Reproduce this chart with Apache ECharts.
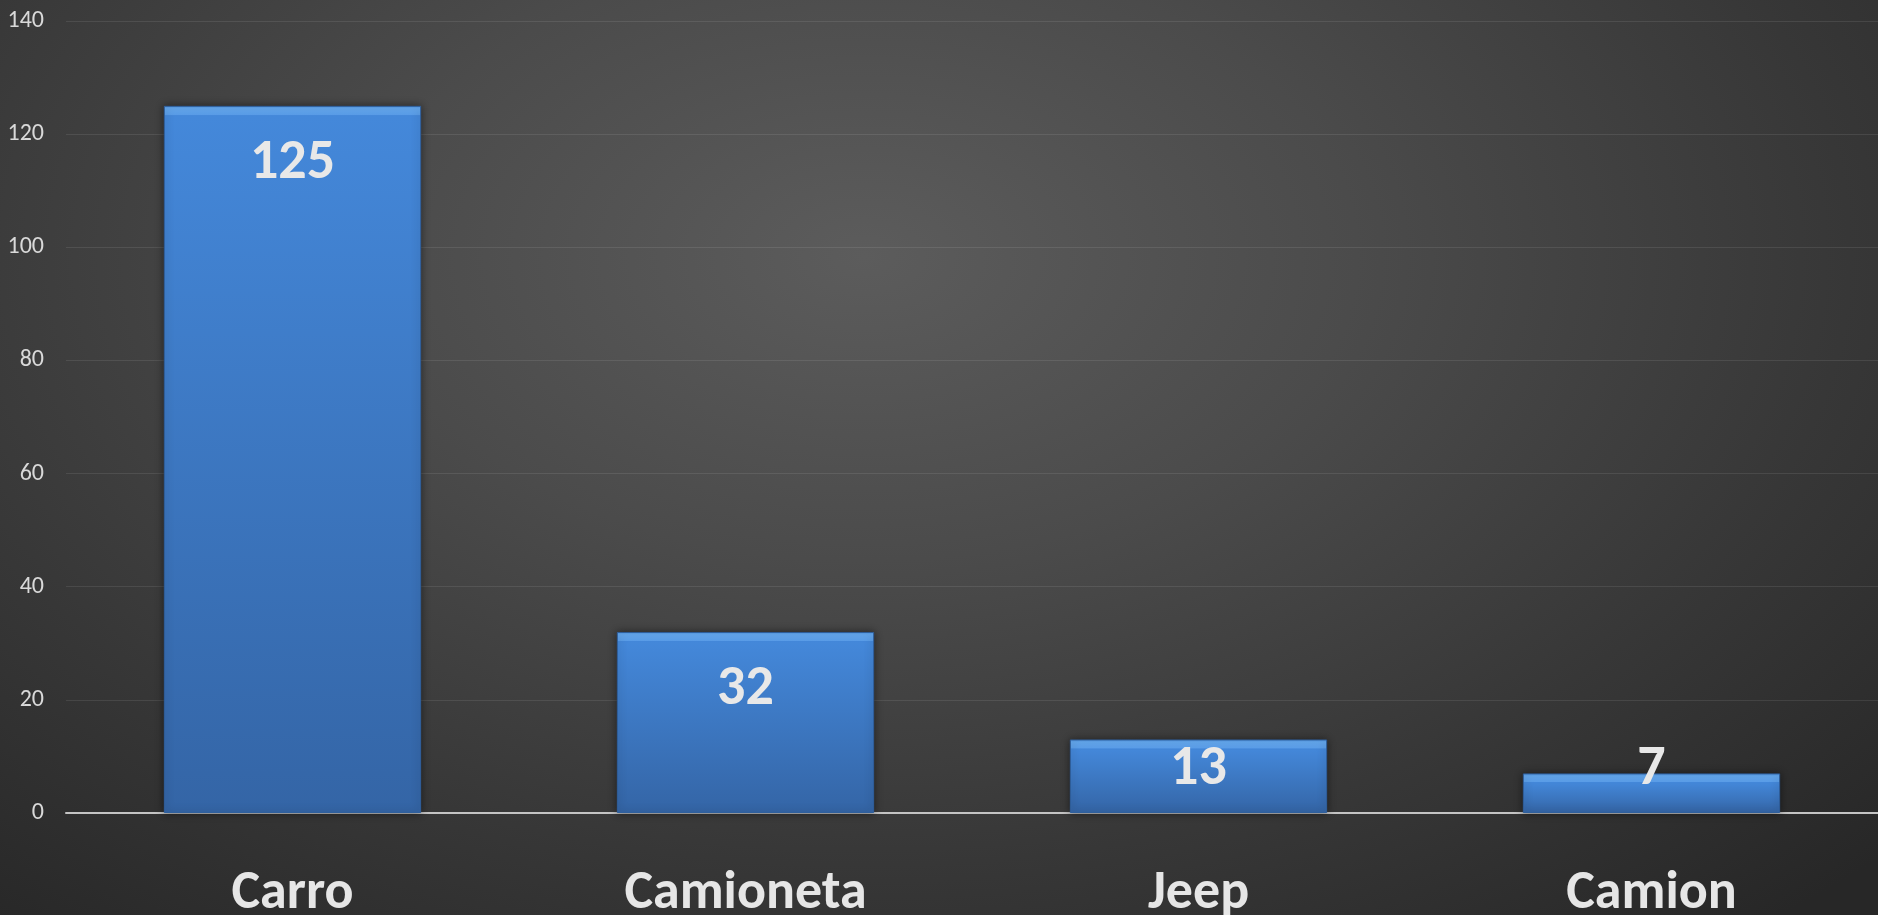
<!DOCTYPE html>
<html>
<head>
<meta charset="utf-8">
<style>
  html, body { margin: 0; padding: 0; width: 1878px; height: 915px; overflow: hidden; }
  body { background: radial-gradient(ellipse 75% 95% at 46% 28%, #5c5c5c 0%, #4b4b4b 35%, #373737 70%, #272727 100%); }
  #chart { width: 1878px; height: 915px; }
</style>
<script src="https://cdn.jsdelivr.net/npm/echarts@6/dist/echarts.min.js"></script>
</head>
<body>
<div id="chart"></div>
<script>
const categories = ['Carro', 'Camioneta', 'Jeep', 'Camion'];
const values = [125, 32, 13, 7];
const yTicks = [0, 20, 40, 60, 80, 100, 120, 140];

const chart = echarts.init(document.getElementById('chart'), null, { renderer: 'canvas' });

const labelFont = 'Calibri, Carlito, Lato, sans-serif';
const plotHeight = 915 - 21 - 102;
const yMax = yTicks[yTicks.length - 1];

function barFill(v) {
  const h = v / yMax * plotHeight;
  const b = Math.min(0.4, 9 / h);
  return {
    type: 'linear', x: 0, y: 0, x2: 0, y2: 1,
    colorStops: [
      { offset: 0, color: '#5296e2' },
      { offset: b * 0.3, color: '#64a8ef' },
      { offset: b, color: '#5a9de8' },
      { offset: b + 0.001, color: '#4488da' },
      { offset: 1, color: '#3465a6' }
    ]
  };
}

const seriesData = values.map(function (v) {
  const tall = v > 20;
  return {
    value: v,
    itemStyle: { color: barFill(v) },
    label: tall
      ? { position: 'insideTop', distance: 30 }
      : { position: 'insideBottom', distance: 15 }
  };
});

chart.setOption({
  backgroundColor: 'transparent',
  animation: false,
  grid: { left: 66, right: 0, top: 21, bottom: 102, containLabel: false, outerBoundsMode: 'none' },
  xAxis: {
    type: 'category',
    data: categories,
    axisLine: { show: true, lineStyle: { color: '#c4c4c4', width: 2 } },
    axisTick: { show: false },
    axisLabel: {
      color: '#e6e6e6',
      fontFamily: labelFont,
      fontWeight: 'bold',
      fontSize: 54,
      lineHeight: 54,
      margin: 54
    }
  },
  yAxis: {
    type: 'value',
    min: yTicks[0],
    max: yMax,
    interval: yTicks[1] - yTicks[0],
    axisLine: { show: false },
    axisTick: { show: false },
    axisLabel: {
      color: '#d9d9d9',
      fontFamily: labelFont,
      fontSize: 24,
      margin: 22
    },
    splitLine: { show: true, lineStyle: { color: 'rgba(255,255,255,0.09)', width: 1 } }
  },
  series: [{
    type: 'bar',
    data: seriesData,
    barWidth: '56.8%',
    itemStyle: {
      borderColor: '#2f5f9c',
      borderWidth: 1,
      shadowColor: 'rgba(0,0,0,0.45)',
      shadowBlur: 8
    },
    label: {
      show: true,
      color: '#e8e8e8',
      fontFamily: labelFont,
      fontWeight: 'bold',
      fontSize: 56,
      lineHeight: 56
    }
  }]
});
</script>
</body>
</html>
